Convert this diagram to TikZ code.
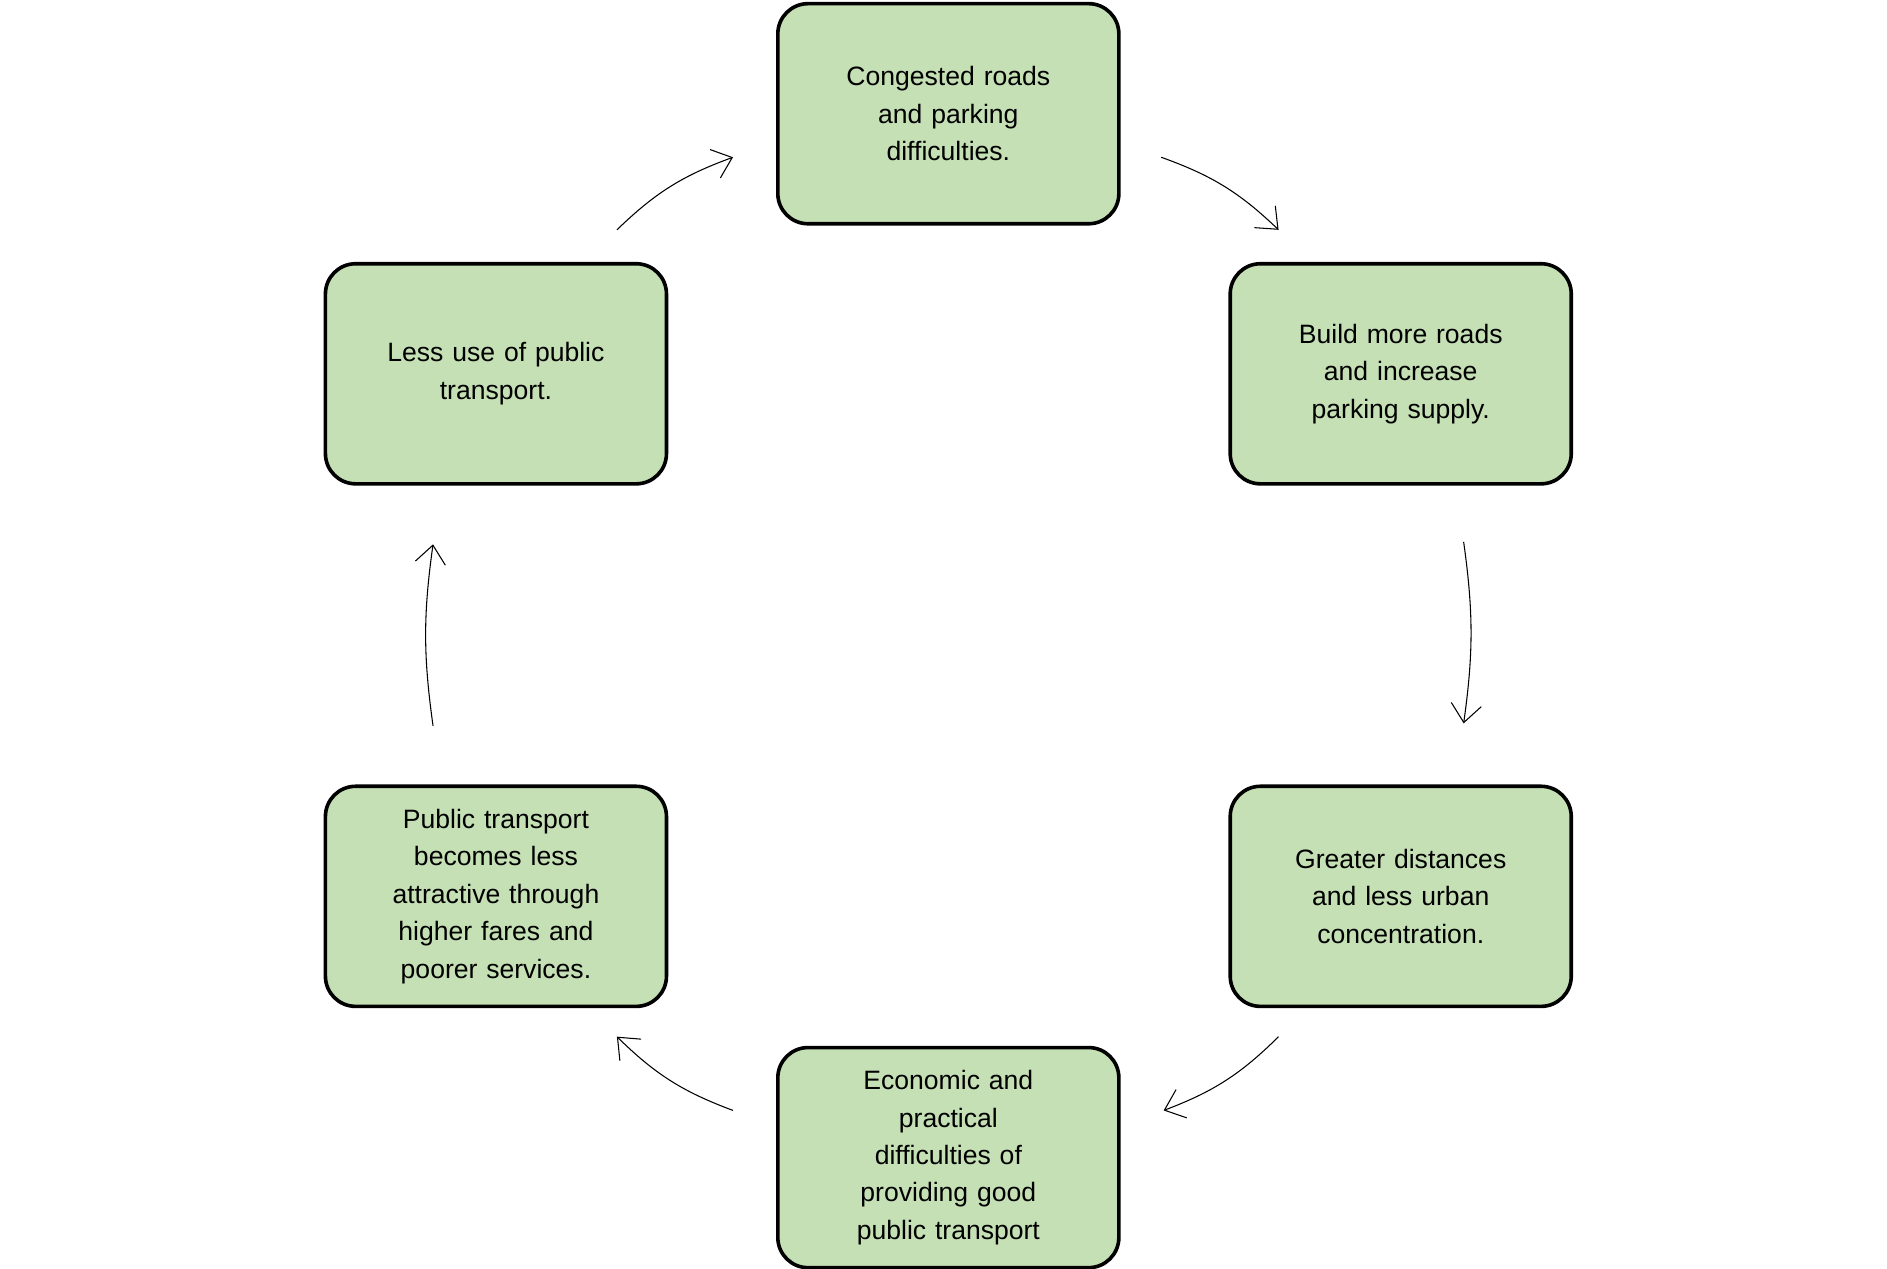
\documentclass[tikz,border=0pt]{standalone}
\usepackage{fontspec}
\setmainfont{Liberation Sans}
\usetikzlibrary{arrows.meta}
\definecolor{boxgreen}{HTML}{C5E0B4}
\begin{document}
\begin{tikzpicture}[x=0.02cm,y=-0.02cm]
\tikzset{box/.style={rectangle, rounded corners=0.5cm, draw=black, line width=1.7pt,
  fill=boxgreen, minimum width=5.64cm, minimum height=3.64cm, text width=5.2cm,
  align=center, font=\fontsize{12.5}{17.6}\selectfont},
  cyc/.style={-{Straight Barb[length=3mm,width=5mm]}, line width=0.5pt}}
\useasboundingbox (0,0) rectangle (1560,1049);
\node (top) [box] at (784,94) {Congested roads\\and parking\\difficulties.};
\node (rup) [box] at (1158,309) {Build more roads\\and increase\\parking supply.};
\node (rlo) [box] at (1158,741) {Greater distances\\and less urban\\concentration.};
\node (bot) [box] at (784,957) {Economic and\\practical\\difficulties of\\providing good\\public transport};
\node (llo) [box] at (410,741) {Public transport\\becomes less\\attractive through\\higher fares and\\poorer services.};
\node (lup) [box] at (410,309) {Less use of public\\transport.};
% arrow ends
\coordinate (a1) at (510,190); \coordinate (b1) at (606,130);
\coordinate (a2) at (960,130); \coordinate (b2) at (1057,190);
\coordinate (a3) at (1210,448); \coordinate (b3) at (1210,598);
\coordinate (a4) at (1057,857); \coordinate (b4) at (962,918);
\coordinate (a5) at (606,918); \coordinate (b5) at (510,857);
\coordinate (a6) at (358,600); \coordinate (b6) at (358,450);
\draw[cyc] (a1) to[bend left=12] (b1);
\draw[cyc] (a2) to[bend left=12] (b2);
\draw[cyc] (a3) to[bend left=8] (b3);
\draw[cyc] (a4) to[bend left=12] (b4);
\draw[cyc] (a5) to[bend left=12] (b5);
\draw[cyc] (a6) to[bend left=8] (b6);
\end{tikzpicture}
\end{document}
